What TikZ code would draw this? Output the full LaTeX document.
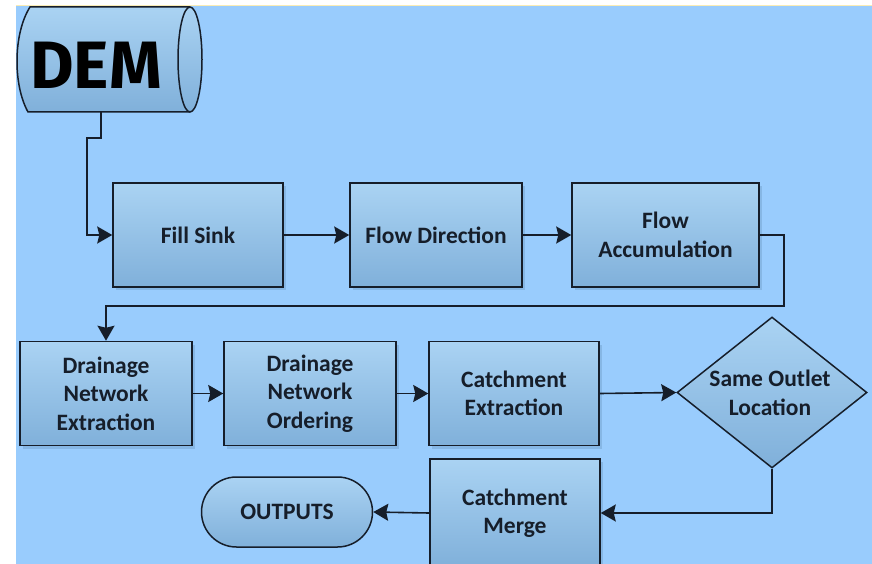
\documentclass[tikz,border=0pt]{standalone}
\usepackage{fontspec}
\setmainfont{Carlito}
\newfontfamily\handfont{Fira Sans}
\usetikzlibrary{shapes.geometric,arrows.meta,shadows}

\definecolor{canvas}{RGB}{153,204,253}
\definecolor{boxtop}{RGB}{170,211,243}
\definecolor{boxbot}{RGB}{128,176,218}
\definecolor{ink}{RGB}{22,30,42}
\definecolor{shade}{RGB}{112,158,200}
\definecolor{edgeyellow}{RGB}{250,236,180}

\tikzset{
  boxfill/.style={draw=ink, line width=1.5pt, top color=boxtop, bottom color=boxbot},
  boxshadow/.style={drop shadow={shadow xshift=3pt, shadow yshift=-3pt, fill=shade, opacity=0.45}},
  boxtext/.style={align=center, text=ink, font=\fontsize{23.5}{28.5}\selectfont\bfseries},
  proc/.style={boxfill, boxshadow, boxtext, rectangle, minimum width=171pt,
    minimum height=104pt, inner sep=0pt},
  decision/.style={boxfill, diamond, minimum width=190pt,
    minimum height=151pt, inner sep=0pt},
  terminal/.style={boxfill, boxtext, rectangle, rounded corners=35pt,
    minimum width=171pt, minimum height=70pt, inner sep=0pt},
  tipstyle/.tip={Stealth[length=15pt,width=17pt,inset=2pt]},
  conn/.style={draw=ink, line width=1.6pt, -tipstyle},
}

\begin{document}
\begin{tikzpicture}[x=1pt,y=-1pt]
  \useasboundingbox (0,0) rectangle (872,564);
  \clip (0,0) rectangle (872,564);
  % page and canvas
  \fill[white] (0,0) rectangle (872,564);
  \fill[canvas] (16,5) rectangle (872,564);
  \draw[line width=1pt, edgeyellow] (16,5.5) -- (872,5.5);

  % data source: horizontal cylinder
  \node[minimum width=172pt, minimum height=105pt, inner sep=0pt] (dem) at (104,59.5) {};
  \fill[top color=boxtop, bottom color=boxbot]
    (30,7) -- (190,7) -- (190,112) -- (28,112)
    .. controls (13,85) and (13,34) .. (30,7) -- cycle;
  \draw[ink, line width=1.5pt]
    (190,7) -- (30,7) .. controls (13,34) and (13,85) .. (28,112) -- (190,112);
  \draw[ink, line width=1.5pt, top color=boxtop, bottom color=boxbot]
    (190,59.5) ellipse [x radius=12, y radius=52.5];
  \node[text=black, font=\handfont\bfseries\fontsize{67}{67}\selectfont] (demtxt) at (96,65) {DEM};

  % first row
  \node[proc, minimum width=170pt] (fill) at (198,235) {Fill Sink};
  \node[proc, minimum width=172pt] (flowdir) at (436,235) {Flow Direction};
  \node[proc, minimum width=187pt] (flowacc) at (665.5,235) {Flow\\Accumulation};

  % second row
  \node[proc, minimum width=172pt] (dne) at (106,393.5) {Drainage\\Network\\Extraction};
  \node[proc, minimum width=172pt] (dno) at (310,393.5) {Drainage\\Network\\Ordering};
  \node[proc, minimum width=170pt] (ce) at (514,393.5) {Catchment\\Extraction};
  \node[decision] (dia) at (772,392.5) {};
  \node[boxtext] (diatxt) at (770,393) {Same Outlet\\Location};

  % third row
  \node[proc, minimum width=170pt, minimum height=108pt] (cm) at (515,513) {Catchment\\Merge};
  \node[terminal] (out) at (287,512) {OUTPUTS};

  % connectors
  \draw[conn] ([xshift=-3pt]dem.south) -- ++(0,26) -- ++(-14,0) |- (fill.west);
  \draw[conn] (fill) -- (flowdir);
  \draw[conn] (flowdir) -- (flowacc);
  \coordinate (loop) at (784,306);
  \draw[conn] (flowacc.east) -| (loop) -| (dne.north);
  \draw[conn] (dne) -- (dno);
  \draw[conn] (dno) -- (ce);
  \draw[conn] (ce.east) -- (dia.west);
  \draw[conn] (dia.south) |- (cm.east);
  \draw[conn] (cm.west) -- (out.east);
\end{tikzpicture}
\end{document}
